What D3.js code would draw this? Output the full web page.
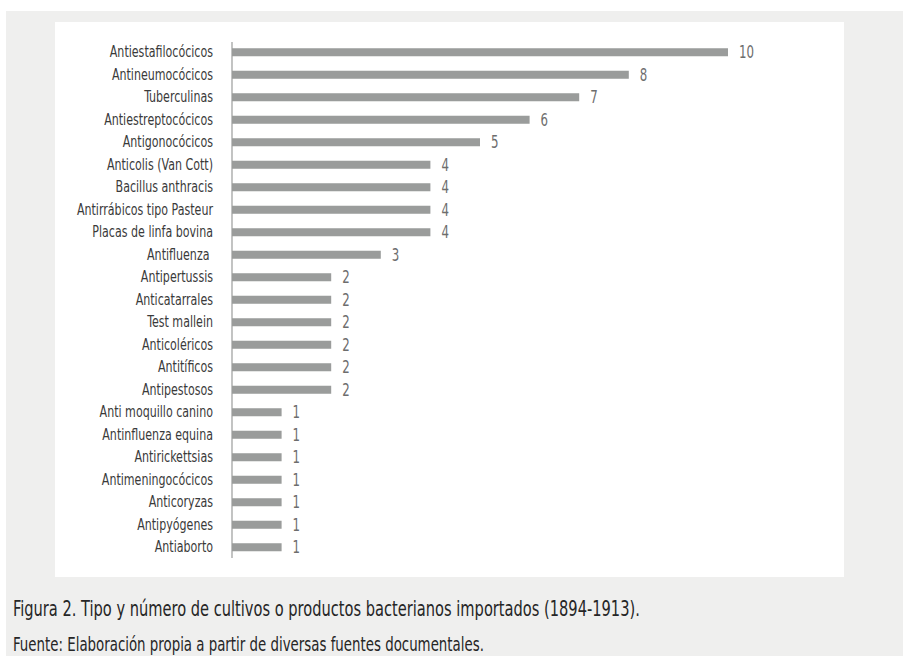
<!DOCTYPE html>
<html>
<head>
<meta charset="utf-8">
<script src="https://cdn.jsdelivr.net/npm/d3@7"></script>
<style>
  html, body { margin: 0; padding: 0; background: #ffffff; }
  svg { display: block; }
  text { font-family: "DejaVu Sans Condensed", "DejaVu Sans", sans-serif; font-stretch: condensed; }
</style>
</head>
<body>
<svg id="chart" width="903" height="656"></svg>
<script>
// Cultivos y productos bacterianos importados, 1894-1913
const categories = [
  "Antiestafilocócicos", "Antineumocócicos", "Tuberculinas", "Antiestreptocócicos",
  "Antigonocócicos", "Anticolis (Van Cott)", "Bacillus anthracis", "Antirrábicos tipo Pasteur",
  "Placas de linfa bovina", "Antifluenza ", "Antipertussis", "Anticatarrales",
  "Test mallein", "Anticoléricos", "Antitíficos", "Antipestosos",
  "Anti moquillo canino", "Antinfluenza equina", "Antirickettsias", "Antimeningocócicos",
  "Anticoryzas", "Antipyógenes", "Antiaborto"
];
const counts = [10, 8, 7, 6, 5, 4, 4, 4, 4, 3, 2, 2, 2, 2, 2, 2, 1, 1, 1, 1, 1, 1, 1];
const caption = "Figura 2. Tipo y número de cultivos o productos bacterianos importados (1894-1913).";
const source = "Fuente: Elaboración propia a partir de diversas fuentes documentales.";

const data = categories.map((c, i) => ({ name: c, value: counts[i] }));

// horizontal squeeze giving the narrow typeface look
const narrow = 0.77;

const svg = d3.select("#chart");

// figure frame and chart panel
svg.append("rect").attr("x", 6).attr("y", 11).attr("width", 897).attr("height", 645).attr("fill", "#efefee");
svg.append("rect").attr("x", 55).attr("y", 22).attr("width", 789).attr("height", 555).attr("fill", "#ffffff");

const x = d3.scaleLinear().domain([0, 10]).range([232, 728]);
const y = d3.scaleBand().domain(categories).range([41, 558.5]).paddingInner(0.644).paddingOuter(0.322);

// bars
svg.append("g").selectAll("rect").data(data).join("rect")
  .attr("x", x(0))
  .attr("y", d => y(d.name))
  .attr("width", d => x(d.value) - x(0))
  .attr("height", y.bandwidth())
  .attr("fill", "#9a9c9b");

// category axis
const axis = d3.axisLeft(y).tickSize(0).tickPadding(19);
const gAxis = svg.append("g").attr("transform", `translate(${x(0)},0)`).call(axis);
gAxis.select(".domain").remove();
gAxis.selectAll("text")
  .attr("x", -19 / narrow)
  .attr("transform", `scale(${narrow},1)`)
  .attr("font-size", 16)
  .attr("fill", "#3a3a3a")
  .style("white-space", "pre")
  .attr("font-family", null);
svg.append("line")
  .attr("x1", x(0)).attr("x2", x(0))
  .attr("y1", 42).attr("y2", 558)
  .attr("stroke", "#9a9c9b").attr("stroke-width", 1.2);

// value labels
svg.append("g").selectAll("text").data(data).join("text")
  .attr("transform", d => `translate(${x(d.value) + 11},${y(d.name) + y.bandwidth() / 2}) scale(0.77,1)`)
  .attr("dy", "0.36em")
  .attr("font-size", 17)
  .attr("fill", "#6d6d6d")
  .text(d => d.value);

// caption and source
svg.append("text").attr("transform", "translate(13,616) scale(0.775,1)")
  .attr("font-size", 21).attr("fill", "#262626").text(caption);
svg.append("text").attr("transform", "translate(13,651) scale(0.79,1)")
  .attr("font-size", 18.8).attr("fill", "#262626").text(source);
</script>
</body>
</html>
